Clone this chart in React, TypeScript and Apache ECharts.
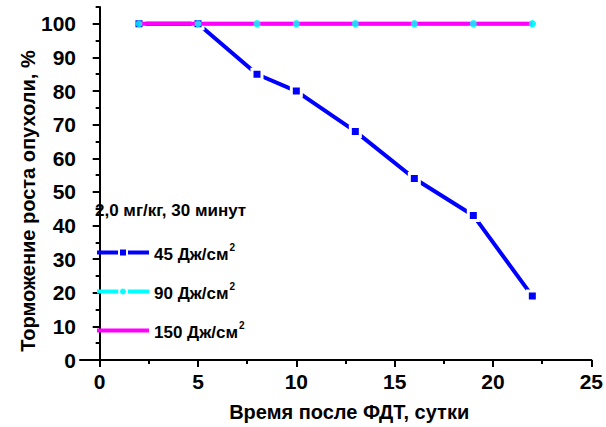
import React, { useEffect, useRef } from "react";
import * as echarts from "echarts";

const days = [2, 5, 8, 10, 13, 16, 19, 22];
const inhib45 = [100, 100, 85, 80, 68, 54, 43, 19];
const inhib90 = [100, 100, 100, 100, 100, 100, 100, 100];
const inhib150 = [100, 100, 100, 100, 100, 100, 100, 100];
const xTicks = [0, 5, 10, 15, 20, 25];
const xMinorTicks = [2.5, 7.5, 12.5, 17.5, 22.5];
const yTicks = [0, 10, 20, 30, 40, 50, 60, 70, 80, 90, 100];
const yMinorTicks = [5, 15, 25, 35, 45, 55, 65, 75, 85, 95, 105];
const names = ["45 Дж/см", "90 Дж/см", "150 Дж/см"];
const legendTitle = "2,0 мг/кг, 30 минут";
const xTitle = "Время после ФДТ, сутки";
const yTitle = "Торможение роста опухоли, %";

const FONT = "'Liberation Sans', Arial, sans-serif";

const pairs = (ys: number[]) => days.map((d, i) => [d, ys[i]]);

export default function App() {
  const ref = useRef<HTMLDivElement>(null);
  useEffect(() => {
    if (!ref.current) return;
    const chart = echarts.init(ref.current, null, { renderer: "svg" });
    const axisLine = { show: true, lineStyle: { color: "#000", width: 2 } };
    chart.setOption({
      animation: false,
      backgroundColor: "#fff",
      textStyle: { fontFamily: FONT },
      title: {
        text: legendTitle,
        left: 95,
        top: 202,
        padding: 0,
        textStyle: { fontFamily: FONT, fontSize: 17, fontWeight: "bold", color: "#000" },
      },
      graphic: [
        {
          type: "text",
          x: 28,
          y: 201,
          rotation: Math.PI / 2,
          style: {
            text: yTitle,
            fill: "#000",
            font: `bold 20px ${FONT}`,
            align: "center",
            verticalAlign: "middle",
          },
        },
      ],
      legend: {
        orient: "vertical",
        left: 95,
        top: 242,
        padding: 0,
        itemWidth: 52,
        itemHeight: 10,
        itemGap: 18,
        lineStyle: { width: 4 },
        data: [
          { name: names[0] },
          { name: names[1] },
          { name: names[2], itemStyle: { opacity: 0 } },
        ],
        formatter: (n: string) => `{t|${n}}{s|2}`,
        textStyle: {
          color: "#000",
          fontFamily: FONT,
          fontWeight: "bold",
          fontSize: 17,
          rich: {
            t: { fontFamily: FONT, fontWeight: "bold", fontSize: 17, color: "#000", lineHeight: 21, verticalAlign: "bottom" },
            s: { fontFamily: FONT, fontWeight: "bold", fontSize: 10, color: "#000", lineHeight: 21, verticalAlign: "top", padding: [0, 0, 6, 1] },
          },
        },
      },
      grid: { left: 80, right: 9, top: 7, bottom: 59, containLabel: false },
      xAxis: [
        {
          type: "value",
          min: -1,
          max: 25,
          position: "bottom",
          axisLine,
          splitLine: { show: false },
          axisTick: { show: true, length: 7, inside: false, customValues: xTicks, lineStyle: { color: "#000", width: 2 } },
          axisLabel: { customValues: xTicks, margin: 11, color: "#000", fontFamily: FONT, fontSize: 21, fontWeight: "bold" },
          name: xTitle,
          nameLocation: "middle",
          nameGap: 42,
          nameTextStyle: { color: "#000", fontFamily: FONT, fontSize: 20, fontWeight: "bold", padding: [0, 0, 0, 27] },
        },
        {
          type: "value",
          min: -1,
          max: 25,
          position: "bottom",
          axisLine: { show: false },
          splitLine: { show: false },
          axisLabel: { show: false },
          axisTick: { show: true, length: 4, customValues: xMinorTicks, lineStyle: { color: "#000", width: 2 } },
        },
      ],
      yAxis: [
        {
          type: "value",
          min: 0,
          max: 105,
          position: "left",
          axisLine,
          splitLine: { show: false },
          axisTick: { show: true, length: 7, customValues: yTicks, lineStyle: { color: "#000", width: 2 } },
          axisLabel: { customValues: yTicks, margin: 4, color: "#000", fontFamily: FONT, fontSize: 21, fontWeight: "bold" },
        },
        {
          type: "value",
          min: 0,
          max: 105,
          position: "left",
          axisLine: { show: false },
          splitLine: { show: false },
          axisLabel: { show: false },
          axisTick: { show: true, length: 4, customValues: yMinorTicks, lineStyle: { color: "#000", width: 2 } },
        },
      ],
      series: [
        {
          name: names[0],
          type: "line",
          z: 2,
          data: pairs(inhib45),
          symbol: "rect",
          symbolSize: 10,
          color: "#0000ff",
          lineStyle: { color: "#0000ff", width: 4 },
          itemStyle: { color: "#0000ff", borderColor: "#fff", borderWidth: 3 },
        },
        {
          name: names[1],
          type: "line",
          z: 1,
          data: pairs(inhib90),
          symbol: "circle",
          symbolSize: 9,
          color: "#00ffff",
          lineStyle: { color: "#00ffff", width: 4 },
          itemStyle: { color: "#00ffff", borderColor: "#fff", borderWidth: 2 },
        },
        {
          name: names[2],
          type: "line",
          z: 3,
          data: pairs(inhib150),
          symbol: "none",
          color: "#ff00ff",
          lineStyle: { color: "#ff00ff", width: 4 },
        },
        {
          name: "90 points",
          type: "scatter",
          z: 5,
          data: pairs(inhib90),
          symbol: "circle",
          symbolSize: 7,
          itemStyle: { color: "#00ffff" },
        },
      ],
    });
    return () => chart.dispose();
  }, []);
  return <div ref={ref} style={{ width: 606, height: 427, position: "absolute", left: 0, top: 0 }} />;
}
